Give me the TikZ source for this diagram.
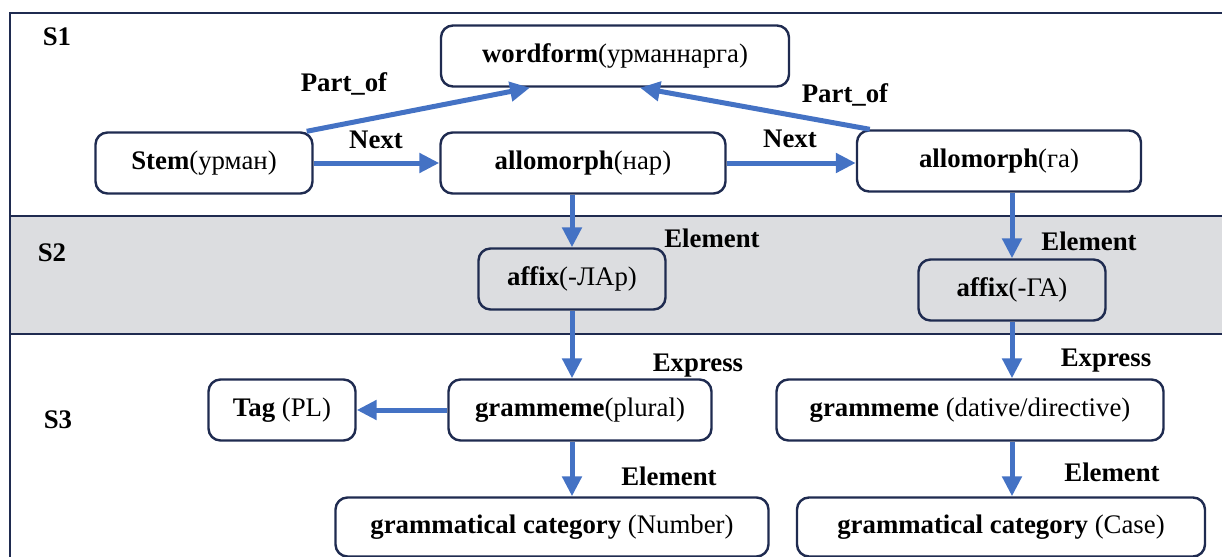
\documentclass[tikz,border=0pt]{standalone}
\usepackage{fontspec}
\setmainfont{Liberation Serif}
\usetikzlibrary{arrows.meta,calc}
\definecolor{frameblue}{HTML}{1F2B50}
\definecolor{arrowblue}{HTML}{4472C4}
\definecolor{bandgrey}{HTML}{DCDDE0}

\begin{document}
\begin{tikzpicture}[x=0.5pt,y=-0.5pt,
  every node/.style={font=\fontsize{13.4}{15}\selectfont},
  box/.style={draw=frameblue,line width=1.2pt,rounded corners=6pt,fill=white,
    minimum height=30.5pt,inner sep=0pt},
  rel/.style={draw=arrowblue,line width=2.5pt,-{Triangle[length=10pt,width=9.5pt]}},
  lab/.style={font=\fontsize{13.4}{15}\selectfont\bfseries}]
\useasboundingbox (0,0) rectangle (1222,557);
\clip (0,0) rectangle (1222,557);
% layers
\fill [bandgrey] (10,216) rectangle (1230,334);
\draw [frameblue,line width=1.2pt] (1230,13) -- (10,13) -- (10,570);
\draw [frameblue,line width=1.2pt] (10,216) -- (1230,216);
\draw [frameblue,line width=1.2pt] (10,334) -- (1230,334);
\node [lab] (s1) at (57,37) {S1};
\node [lab] (s2) at (52,253) {S2};
\node [lab] (s3) at (58,420) {S3};
% S1
\node [box,minimum width=174pt] (wordform) at (615,56) {\textbf{wordform}(урманнарга)};
\node [box,minimum width=108.5pt] (stem) at (204,163) {\textbf{Stem}(урман)};
\node [box,minimum width=142.5pt] (allo1) at (583,163) {\textbf{allomorph}(нар)};
\node [box,minimum width=142pt] (allo2) at (999,161) {\textbf{allomorph}(га)};
% S2
\node [box,fill=bandgrey,minimum width=93.5pt] (affix1) at (572,279) {\textbf{affix}(-ЛАр)};
\node [box,fill=bandgrey,minimum width=93.5pt] (affix2) at (1012,290) {\textbf{affix}(-ГА)};
% S3
\node [box,minimum width=73.5pt] (tag) at (282,410) {\textbf{Tag} (PL)};
\node [box,minimum width=131.5pt] (gram1) at (580,410) {\textbf{grammeme}(plural)};
\node [box,minimum width=193.5pt] (gram2) at (970,410) {\textbf{grammeme} (dative/directive)};
\node [box,minimum width=216.5pt,minimum height=29.5pt] (cat1) at (552,527) {\textbf{grammatical category} (Number)};
\node [box,minimum width=204pt,minimum height=29.5pt] (cat2) at (1001,527) {\textbf{grammatical category} (Case)};
% relations
\draw [rel] ($(stem.north east)+(-7,0)$) -- ($(wordform.south)+(-85,0)$);
\draw [rel] ($(allo2.north west)+(14,0)$) -- ($(wordform.south)+(25,0)$);
\draw [rel] (stem) -- (allo1);
\draw [rel] (allo1.east) -- (allo1.east -| allo2.west);
\draw [rel] (allo1.south -| affix1.north) -- (affix1.north);
\draw [rel] (allo2.south -| affix2.north) -- (affix2.north);
\draw [rel] (affix1.south) -- (affix1.south |- gram1.north);
\draw [rel] (affix2.south) -- (affix2.south |- gram2.north);
\draw [rel] (gram1) -- (tag);
\draw [rel] (gram1.south -| affix1.south) -- (affix1.south |- cat1.north);
\draw [rel] (gram2.south -| affix2.south) -- (affix2.south |- cat2.north);
\node [lab] (partof1) at (344,84) {Part\_of};
\node [lab] (partof2) at (845,95) {Part\_of};
\node [lab] (next1) at (376,140) {Next};
\node [lab] (next2) at (790,139) {Next};
\node [lab] (elem1) at (712,238) {Element};
\node [lab] (elem2) at (1089,241) {Element};
\node [lab] (expr1) at (698,366) {Express};
\node [lab] (expr2) at (1106,361) {Express};
\node [lab] (elem3) at (669,476) {Element};
\node [lab] (elem4) at (1112,472) {Element};
\end{tikzpicture}
\end{document}
